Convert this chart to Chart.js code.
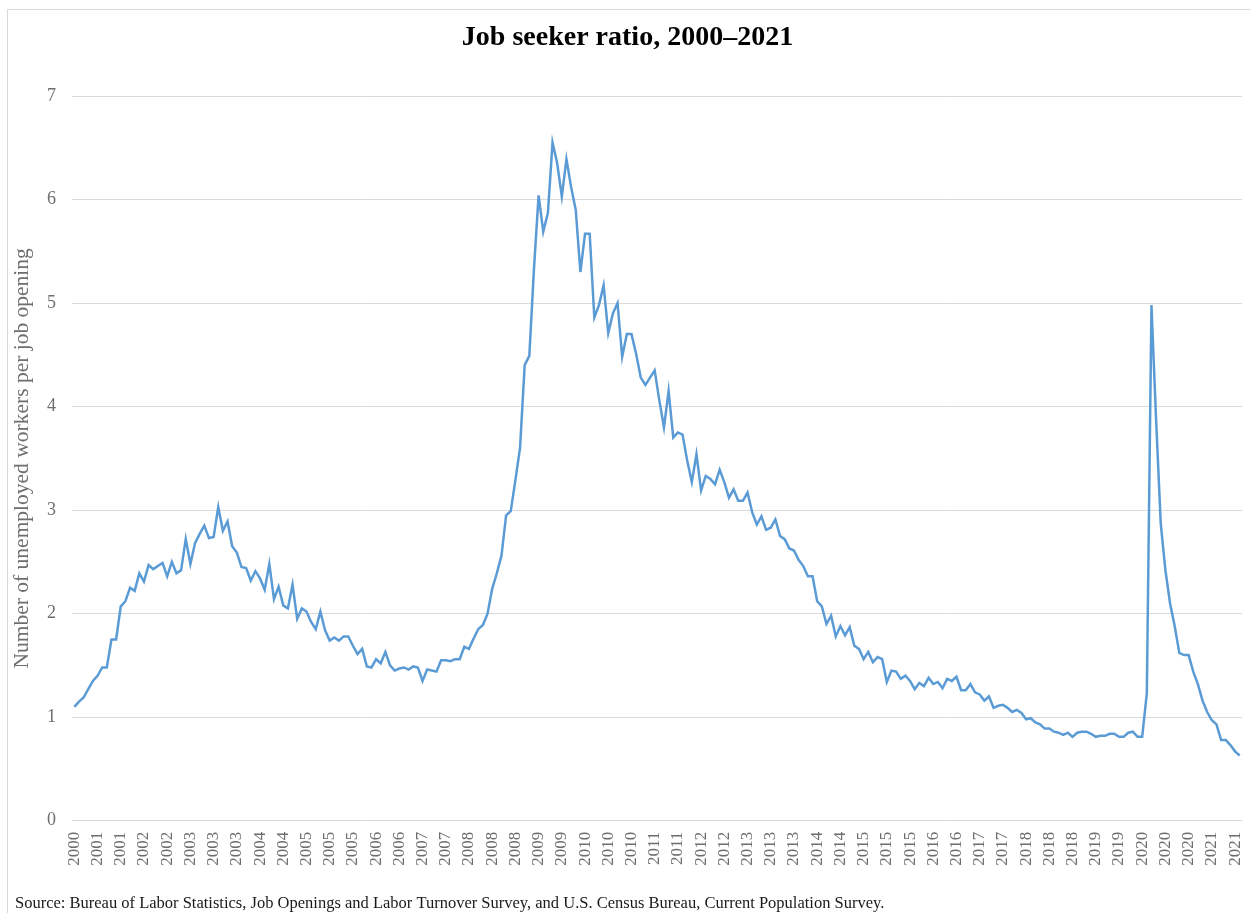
<!DOCTYPE html>
<html>
<head>
<meta charset="utf-8">
<title>Job seeker ratio, 2000–2021</title>
<script src="https://cdn.jsdelivr.net/npm/chart.js@4.4.1/dist/chart.umd.min.js"></script>
<style>
  html, body { margin: 0; padding: 0; background: #fff; overflow: hidden; }
  #wrap { position: relative; width: 1250px; height: 913px; }
  #frame { position: absolute; left: 7px; top: 9px; width: 1260px; height: 1000px;
           border: 1px solid #d9d9d9; pointer-events: none; }
</style>
</head>
<body>
<div id="wrap">
  <canvas id="chart"></canvas>
  <div id="frame"></div>
</div>
<script>
// Unemployed workers per job opening, monthly, Dec 2000 - Nov 2021
const ratio2000s = [
    1.10,                                                                   // 2000 (Dec)
    1.15, 1.19, 1.27, 1.35, 1.40, 1.48, 1.48, 1.75, 1.75, 2.07, 2.12, 2.25, // 2001
    2.22, 2.39, 2.31, 2.47, 2.43, 2.46, 2.49, 2.36, 2.50, 2.39, 2.42, 2.72, // 2002
    2.48, 2.68, 2.77, 2.85, 2.73, 2.74, 3.03, 2.80, 2.89, 2.65, 2.59, 2.45, // 2003
    2.44, 2.32, 2.41, 2.34, 2.23, 2.48, 2.14, 2.26, 2.08, 2.05, 2.28, 1.95, // 2004
    2.05, 2.02, 1.92, 1.85, 2.02, 1.84, 1.74, 1.77, 1.74, 1.78, 1.78, 1.69, // 2005
    1.61, 1.66, 1.49, 1.48, 1.56, 1.52, 1.63, 1.50, 1.45, 1.47, 1.48, 1.46, // 2006
    1.49, 1.48, 1.35, 1.46, 1.45, 1.44, 1.55, 1.55, 1.54, 1.56, 1.56, 1.68, // 2007
    1.66, 1.76, 1.85, 1.89, 2.00, 2.24, 2.39, 2.56, 2.95, 2.99, 3.29, 3.60, // 2008
    4.40, 4.49, 5.33, 6.04, 5.69, 5.87, 6.55, 6.35, 6.03, 6.39, 6.12, 5.90  // 2009
];
const ratio2010s = [
    5.30, 5.67, 5.67, 4.86, 4.98, 5.17, 4.71, 4.90, 5.00, 4.48, 4.70, 4.70, // 2010
    4.51, 4.28, 4.21, 4.28, 4.35, 4.06, 3.80, 4.15, 3.70, 3.75, 3.73, 3.48, // 2011
    3.27, 3.54, 3.19, 3.33, 3.30, 3.25, 3.39, 3.27, 3.12, 3.20, 3.09, 3.09, // 2012
    3.17, 2.98, 2.86, 2.94, 2.81, 2.83, 2.91, 2.75, 2.72, 2.63, 2.61, 2.52, // 2013
    2.46, 2.36, 2.36, 2.12, 2.07, 1.90, 1.98, 1.78, 1.88, 1.79, 1.87, 1.69, // 2014
    1.66, 1.56, 1.63, 1.53, 1.58, 1.56, 1.34, 1.45, 1.44, 1.37, 1.40, 1.35, // 2015
    1.27, 1.33, 1.30, 1.38, 1.32, 1.34, 1.28, 1.37, 1.35, 1.39, 1.26, 1.26, // 2016
    1.32, 1.24, 1.22, 1.16, 1.20, 1.09, 1.11, 1.12, 1.09, 1.05, 1.07, 1.04, // 2017
    0.98, 0.99, 0.95, 0.93, 0.89, 0.89, 0.86, 0.85, 0.83, 0.85, 0.81, 0.85, // 2018
    0.86, 0.86, 0.84, 0.81, 0.82, 0.82, 0.84, 0.84, 0.81, 0.81, 0.85, 0.86  // 2019
];
const ratio2020s = [
    0.81, 0.81, 1.23, 4.98, 3.87, 2.87, 2.42, 2.10, 1.88, 1.62, 1.60, 1.60, // 2020
    1.44, 1.32, 1.16, 1.05, 0.97, 0.93, 0.78, 0.78, 0.73, 0.67, 0.63        // 2021
];

// Axis labels shown under every fifth month
const tickYears = [
    '2000', '2001', '2001', '2002', '2002', '2003', '2003', '2003', '2004', '2004',
    '2005', '2005', '2005', '2006', '2006', '2007', '2007', '2008', '2008', '2008',
    '2009', '2009', '2010', '2010', '2010', '2011', '2011', '2012', '2012', '2013',
    '2013', '2013', '2014', '2014', '2015', '2015', '2015', '2016', '2016', '2017',
    '2017', '2018', '2018', '2018', '2019', '2019', '2020', '2020', '2020', '2021',
    '2021'
];
const monthNames = ['Jan', 'Feb', 'Mar', 'Apr', 'May', 'Jun', 'Jul', 'Aug', 'Sep', 'Oct', 'Nov', 'Dec'];

const TITLE = 'Job seeker ratio, 2000–2021';
const Y_TITLE = 'Number of unemployed workers per job opening';
const SOURCE = 'Source: Bureau of Labor Statistics, Job Openings and Labor Turnover Survey, and U.S. Census Bureau, Current Population Survey.';
const SERIF = '"Liberation Serif", "Times New Roman", serif';
const GREY = '#6e6e6e';

const ratio = [...ratio2000s, ...ratio2010s, ...ratio2020s];

// month categories starting Dec 2000
const categories = ratio.map((_, k) => monthNames[(11 + k) % 12] + ' ' + (2000 + Math.floor((11 + k) / 12)));

// source line under the axis
const sourceNote = {
    id: 'sourceNote',
    afterDraw(chart) {
        const ctx = chart.ctx;
        ctx.save();
        ctx.font = '16.5px ' + SERIF;
        ctx.fillStyle = '#1a1a1a';
        ctx.textAlign = 'left';
        ctx.textBaseline = 'alphabetic';
        ctx.fillText(SOURCE, 15, 908);
        ctx.restore();
    }
};

new Chart(document.getElementById('chart'), {
    type: 'line',
    data: {
        labels: categories,
        datasets: [{
            label: 'Job seeker ratio',
            data: ratio,
            borderColor: '#5b9bd5',
            borderWidth: 2.5,
            pointRadius: 0,
            tension: 0,
            fill: false
        }]
    },
    options: {
        responsive: true,
        maintainAspectRatio: false,
        animation: false,
        layout: { padding: { left: 13, right: 8, top: 0, bottom: 0 } },
        plugins: {
            legend: { display: false },
            tooltip: { enabled: false },
            title: {
                display: true,
                text: TITLE,
                color: '#000',
                font: { family: SERIF, size: 28, weight: 'bold', lineHeight: 1.2 },
                padding: { top: 20.5, bottom: 41.9 }
            }
        },
        scales: {
            x: {
                type: 'category',
                offset: true,
                grid: { display: false, drawTicks: false },
                border: { display: false },
                ticks: {
                    autoSkip: false,
                    maxRotation: 90,
                    minRotation: 90,
                    padding: 11,
                    color: GREY,
                    font: { family: SERIF, size: 17 },
                    callback: (value, index) => index % 5 === 0 ? tickYears[index / 5] : null
                },
                afterFit: (scale) => {
                    scale.height = 92.3;
                    scale.paddingLeft = 0;
                    scale.paddingRight = 0;
                }
            },
            y: {
                min: 0,
                max: 7,
                ticks: {
                    stepSize: 1,
                    padding: 16,
                    color: GREY,
                    font: { family: SERIF, size: 18 }
                },
                grid: { color: '#d9d9d9', drawTicks: false },
                border: { display: false },
                title: {
                    display: true,
                    text: Y_TITLE,
                    color: GREY,
                    font: { family: SERIF, size: 21.5, lineHeight: 1 },
                    padding: { top: -1, bottom: 0 }
                },
                afterFit: (scale) => { scale.width = 59; }
            }
        }
    },
    plugins: [sourceNote]
});
</script>
</body>
</html>
